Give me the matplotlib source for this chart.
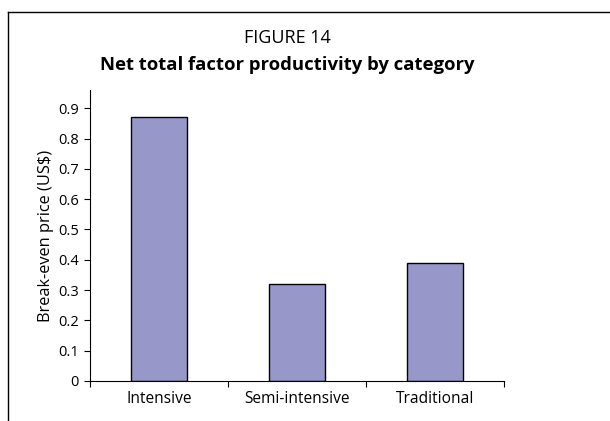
import matplotlib
matplotlib.use('Agg')
import matplotlib.pyplot as plt
from matplotlib.lines import Line2D

categories = ['Intensive', 'Semi-intensive', 'Traditional']
values = [0.87, 0.32, 0.39]
yticks = [0, 0.1, 0.2, 0.3, 0.4, 0.5, 0.6, 0.7, 0.8, 0.9]

plt.rcParams['font.family'] = ['Open Sans', 'DejaVu Sans']

W, H = 610, 421
fig = plt.figure(figsize=(W / 100, H / 100), dpi=100)
ax = fig.add_axes([90 / W, 40 / H, 414 / W, 291 / H])

x = list(range(len(categories)))
ax.bar(x, values, width=0.4, color='#9797C9', edgecolor='black', linewidth=1.0)
ax.set_xlim(-0.5, 2.5)
ax.set_ylim(0, 0.96)
ax.set_yticks(yticks)
ax.set_yticklabels(['0' if v == 0 else f'{v:.1f}' for v in yticks], fontsize=10.5)
ax.set_xticks([-0.5, 0.5, 1.5, 2.5], minor=False)
ax.set_xticklabels([])
ax.set_xticks(x, minor=True)
ax.set_xticklabels(categories, minor=True, fontsize=11.2)
ax.tick_params(axis='x', which='minor', length=0, pad=7)
ax.tick_params(axis='x', which='major', length=4, direction='out')
ax.tick_params(axis='y', length=4, direction='out', pad=4)
ax.spines['top'].set_visible(False)
ax.spines['right'].set_visible(False)
ax.set_ylabel('Break-even price (US$)', fontsize=11.8, labelpad=3)

fig.text(287 / W, 1 - 38 / H, 'FIGURE 14', ha='center', va='center', fontsize=13)
fig.text(287 / W, 1 - 65 / H, 'Net total factor productivity by category',
         ha='center', va='center', fontsize=13.3, fontweight='bold')

# outer frame (top and left edges)
fig.add_artist(Line2D([8 / W, 1], [1 - 12 / H, 1 - 12 / H], color='black', lw=1))
fig.add_artist(Line2D([8 / W, 8 / W], [0, 1 - 12 / H], color='black', lw=1))

fig.savefig('out.png', dpi=100)
